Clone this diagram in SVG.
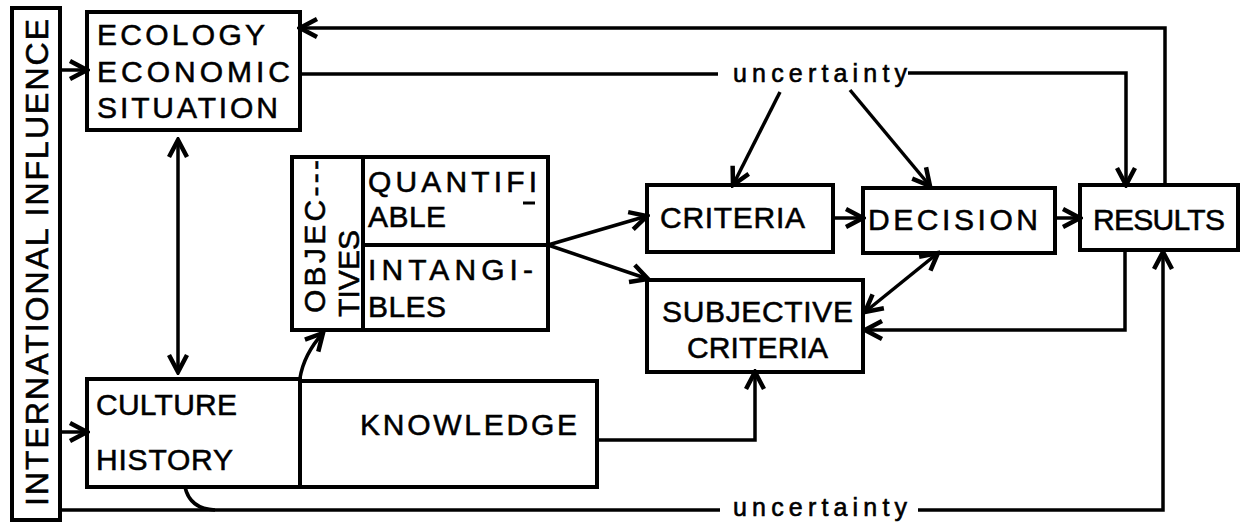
<svg xmlns="http://www.w3.org/2000/svg" width="1242" height="523" viewBox="0 0 1242 523">
<style>
.box{fill:none;stroke:#000;stroke-width:4;stroke-linejoin:miter}
.ln{fill:none;stroke:#000;stroke-width:3.5;stroke-linejoin:miter}
.t{font-family:"Liberation Sans",Arial,sans-serif;font-size:30px;fill:#000;stroke:#000;stroke-width:0.55}
.u{font-family:"Liberation Sans",Arial,sans-serif;font-size:25px;fill:#000;stroke:#000;stroke-width:0.6}
</style>
<defs>
<marker id="arr" viewBox="0 0 24 24" refX="21" refY="12" markerWidth="24" markerHeight="24" markerUnits="userSpaceOnUse" orient="auto-start-reverse">
<path d="M4,3 L21,12 L4,21" fill="none" stroke="#000" stroke-width="4.5"/>
</marker>
</defs>
<rect width="1242" height="523" fill="#fff"/>

<g id="international">
<rect class="box" x="12" y="8" width="48" height="512"/>
<text class="t" style="font-size:32px" transform="translate(48,506) rotate(-90)" textLength="487" lengthAdjust="spacing">INTERNATIONAL INFLUENCE</text>
</g>

<g id="ecology">
<rect class="box" x="87" y="12" width="213" height="118"/>
<text class="t" x="97" y="45" textLength="168" lengthAdjust="spacing">ECOLOGY</text>
<text class="t" x="97" y="82" textLength="193" lengthAdjust="spacing">ECONOMIC</text>
<text class="t" x="97" y="118" textLength="181" lengthAdjust="spacing">SITUATION</text>
</g>

<g id="culture">
<rect class="box" x="87" y="379" width="213" height="108"/>
<text class="t" x="96" y="415" textLength="141" lengthAdjust="spacing">CULTURE</text>
<text class="t" x="96" y="470" textLength="137" lengthAdjust="spacing">HISTORY</text>
</g>

<g id="knowledge">
<path class="box" d="M300,381 L597,381 L597,487 L300,487"/>
<text class="t" x="360" y="435" textLength="217" lengthAdjust="spacing">KNOWLEDGE</text>
</g>

<g id="objectives">
<rect class="box" x="292" y="157" width="71" height="173"/>
<text class="t" transform="translate(325,313) rotate(-90)" textLength="153" lengthAdjust="spacing">OBJEC---</text>
<text class="t" transform="translate(359,317) rotate(-90)" textLength="87" lengthAdjust="spacing">TIVES</text>
</g>

<g id="quantifiable">
<rect class="box" x="363" y="157" width="185" height="88"/>
<text class="t" x="368" y="192" textLength="169" lengthAdjust="spacing">QUANTIFI</text>
<line x1="523" y1="203" x2="535" y2="203" stroke="#000" stroke-width="3"/>
<text class="t" x="368" y="227" textLength="78" lengthAdjust="spacing">ABLE</text>
</g>

<g id="intangibles">
<rect class="box" x="363" y="245" width="185" height="85"/>
<text class="t" x="368" y="280" textLength="165" lengthAdjust="spacing">INTANGI-</text>
<text class="t" x="368" y="317" textLength="78" lengthAdjust="spacing">BLES</text>
</g>

<g id="criteria">
<rect class="box" x="647" y="185" width="186" height="67"/>
<text class="t" x="660" y="228" textLength="145" lengthAdjust="spacing">CRITERIA</text>
</g>

<g id="decision">
<rect class="box" x="863" y="188" width="192" height="65"/>
<text class="t" x="868" y="230" textLength="170" lengthAdjust="spacing">DECISION</text>
</g>

<g id="results">
<rect class="box" x="1080" y="185" width="158" height="65"/>
<text class="t" x="1093" y="230" textLength="132" lengthAdjust="spacing">RESULTS</text>
</g>

<g id="subjective">
<rect class="box" x="647" y="280" width="216" height="92"/>
<text class="t" x="662" y="322" textLength="191" lengthAdjust="spacing">SUBJECTIVE</text>
<text class="t" x="687" y="358" textLength="141" lengthAdjust="spacing">CRITERIA</text>
</g>

<g id="uncertainty-top">
<text class="u" x="733" y="82" textLength="174" lengthAdjust="spacing">uncertainty</text>
</g>
<g id="uncertainty-bottom">
<text class="u" x="733" y="516" textLength="174" lengthAdjust="spacing">uncertainty</text>
</g>

<g id="connectors">
<path class="ln" d="M60,70 L87,70" marker-end="url(#arr)"/>
<path class="ln" d="M60,432 L87,432" marker-end="url(#arr)"/>
<path class="ln" d="M60,510 L720,510"/>
<path class="ln" d="M185,487 Q190,509 215,510"/>
<path class="ln" d="M918,510 L1163,510 L1163,252" marker-end="url(#arr)"/>
<path class="ln" d="M178,140 L178,372" marker-start="url(#arr)" marker-end="url(#arr)"/>
<path class="ln" d="M300,378 Q304,354 323,333" marker-end="url(#arr)"/>
<path class="ln" d="M300,74 L718,74"/>
<path class="ln" d="M1165,185 L1165,28 L300,28" marker-end="url(#arr)"/>
<path class="ln" d="M908,73 L1126,73 L1126,185" marker-end="url(#arr)"/>
<path class="ln" d="M780,92 L733,185" marker-end="url(#arr)"/>
<path class="ln" d="M850,90 L930,186" marker-end="url(#arr)"/>
<path class="ln" d="M548,245 L647,216" marker-end="url(#arr)"/>
<path class="ln" d="M548,245 L648,279" marker-end="url(#arr)"/>
<path class="ln" d="M833,218 L863,218" marker-end="url(#arr)"/>
<path class="ln" d="M1055,218 L1080,218" marker-end="url(#arr)"/>
<path class="ln" d="M865,312 L938,253" marker-start="url(#arr)" marker-end="url(#arr)"/>
<path class="ln" d="M1125,250 L1125,330 L865,330" marker-end="url(#arr)"/>
<path class="ln" d="M597,440 L755,440 L755,372" marker-end="url(#arr)"/>
</g>
</svg>
